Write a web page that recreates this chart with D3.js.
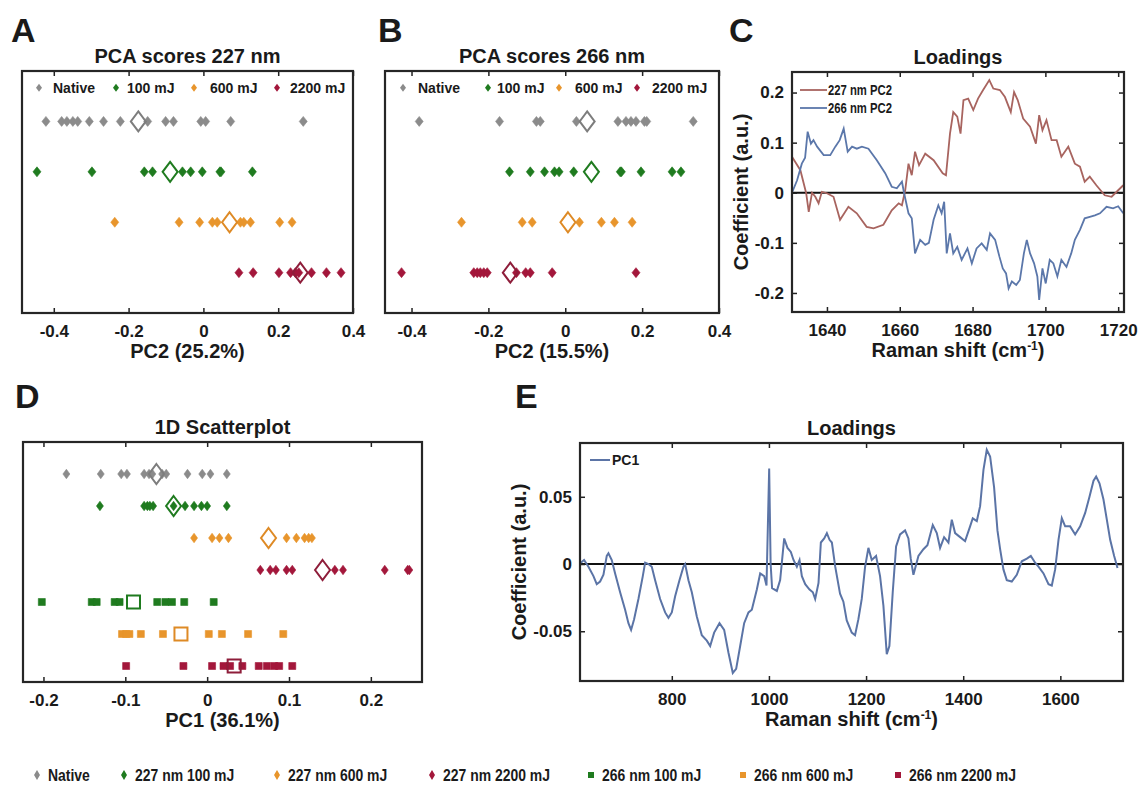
<!DOCTYPE html>
<html><head><meta charset="utf-8">
<script src="https://cdn.jsdelivr.net/npm/d3@7"></script>
<style>
body{margin:0;background:#fff}
svg{display:block}
text{font-family:'Liberation Sans',Arial,sans-serif;font-weight:bold;fill:#1a1a1a}
</style>
</head><body>
<svg id="fig" width="1141" height="788"></svg>
<script>
// ---------------- DATA ----------------
const groupsAB = ["Native", "100 mJ", "600 mJ", "2200 mJ"];
const groupsD = ["Native", "227 nm 100 mJ", "227 nm 600 mJ", "227 nm 2200 mJ", "266 nm 100 mJ", "266 nm 600 mJ", "266 nm 2200 mJ"];
const groupColors = ["#8b8b8b", "#1f7b1f", "#e8952c", "#a3173b"];
const meanStroke = ["#7d7d7d", "#1f7b1f", "#de8a25", "#8e1d3a"];

// Panel A: PC2 scores, 227 nm
const scoresA_native = [-0.421, -0.379, -0.365, -0.349, -0.336, -0.305, -0.267, -0.222, -0.149, -0.101, -0.080, -0.007, 0.006, 0.073, 0.267];
const scoresA_100 = [-0.445, -0.298, -0.158, -0.136, -0.056, -0.034, -0.003, 0.044, 0.047, 0.131];
const scoresA_600 = [-0.237, -0.065, -0.010, 0.024, 0.037, 0.099, 0.108, 0.126, 0.204, 0.237];
const scoresA_2200 = [0.095, 0.133, 0.202, 0.233, 0.246, 0.255, 0.289, 0.329, 0.368];
const meansA = [-0.174, -0.089, 0.070, 0.259];

// Panel B: PC2 scores, 266 nm
const scoresB_native = [-0.380, -0.171, -0.075, -0.065, 0.029, 0.137, 0.158, 0.171, 0.184, 0.206, 0.212, 0.333];
const scoresB_100 = [-0.145, -0.091, -0.054, -0.028, -0.016, 0.022, 0.143, 0.146, 0.197, 0.278, 0.301];
const scoresB_600 = [-0.270, -0.112, -0.086, 0.037, 0.094, 0.128, 0.174];
const scoresB_2200 = [-0.426, -0.238, -0.229, -0.221, -0.212, -0.203, -0.127, -0.103, -0.091, -0.034, 0.184];
const meansB = [0.057, 0.068, 0.007, -0.143];

// Panel D: PC1 scores
const scoresD_native = [-0.172, -0.130, -0.105, -0.098, -0.077, -0.071, -0.067, -0.055, -0.050, -0.024, -0.006, 0.004, 0.024];
const scoresD_227_100 = [-0.131, -0.077, -0.073, -0.070, -0.066, -0.041, -0.027, -0.016, -0.007, 0.000, 0.024];
const scoresD_227_600 = [-0.016, 0.006, 0.015, 0.026, 0.097, 0.109, 0.119, 0.124, 0.128];
const scoresD_227_2200 = [0.065, 0.077, 0.084, 0.097, 0.104, 0.156, 0.166, 0.217, 0.245, 0.247];
const scoresD_266_100 = [-0.202, -0.141, -0.135, -0.113, -0.107, -0.061, -0.051, -0.043, -0.028, 0.008];
const scoresD_266_600 = [-0.104, -0.099, -0.095, -0.081, -0.054, 0.002, 0.018, 0.050, 0.093];
const scoresD_266_2200 = [-0.099, -0.029, 0.006, 0.020, 0.028, 0.043, 0.063, 0.073, 0.082, 0.088, 0.104];
const meansD = [-0.062, -0.041, 0.075, 0.141, -0.090, -0.032, 0.033];

// Panel C: PC2 loadings [Raman shift, coefficient]
const loadC_227 = [[1630.4,0.072],[1632.7,0.045],[1634.3,-0.001],[1635,-0.038],[1635.9,0.0],[1636.8,-0.008],[1637.7,-0.021],[1638.6,0.002],[1640,-0.001],[1641.8,-0.008],[1643.6,-0.054],[1645.9,-0.028],[1648.2,-0.041],[1650.9,-0.068],[1652.8,-0.071],[1655.5,-0.064],[1657.8,-0.035],[1659.7,-0.021],[1660.6,-0.025],[1661.5,0.005],[1662.4,0.058],[1663.3,0.035],[1664.2,0.082],[1665.3,0.055],[1667,0.078],[1669.3,0.065],[1671.8,0.039],[1672.7,0.035],[1673.8,0.118],[1674.7,0.161],[1675.8,0.152],[1676.7,0.118],[1677.5,0.185],[1678.8,0.188],[1680.2,0.165],[1681.5,0.188],[1682.9,0.205],[1684.6,0.225],[1685.7,0.208],[1687.5,0.205],[1688.9,0.191],[1690.5,0.161],[1691.4,0.201],[1692.4,0.185],[1693.9,0.148],[1695.8,0.132],[1697.4,0.098],[1698.3,0.155],[1699.2,0.125],[1700.3,0.145],[1701.7,0.105],[1703.1,0.105],[1704.4,0.072],[1706.3,0.092],[1708.1,0.058],[1709.5,0.052],[1710.8,0.022],[1712.2,0.032],[1714,0.015],[1716.3,-0.005],[1718.2,-0.008],[1720,0.005],[1721.4,0.015]];
const loadC_266 = [[1630.4,0.0],[1631.8,0.025],[1633.1,0.058],[1634,0.07],[1634.7,0.122],[1635.6,0.098],[1636.3,0.105],[1637.3,0.092],[1639.1,0.075],[1640.9,0.075],[1642.3,0.092],[1643.5,0.105],[1644.6,0.128],[1645.7,0.082],[1646.9,0.092],[1648.2,0.088],[1649.6,0.092],[1651.4,0.088],[1653.7,0.065],[1656,0.039],[1657.8,0.012],[1659.2,0.009],[1660.6,0.022],[1661.2,-0.001],[1662.4,-0.041],[1663.3,-0.051],[1664.2,-0.121],[1665.6,-0.094],[1667,-0.104],[1668,-0.1],[1669.3,-0.054],[1670.6,-0.025],[1671.5,-0.041],[1672.2,-0.018],[1672.9,-0.121],[1673.8,-0.081],[1674.7,-0.121],[1675.8,-0.108],[1677,-0.134],[1678.6,-0.111],[1679.8,-0.141],[1681.1,-0.111],[1682.5,-0.101],[1683.9,-0.114],[1684.8,-0.081],[1686.2,-0.094],[1687.4,-0.128],[1688.3,-0.151],[1689.2,-0.161],[1689.9,-0.191],[1690.8,-0.177],[1692,-0.184],[1693,-0.174],[1694.1,-0.121],[1694.9,-0.094],[1695.8,-0.121],[1696.9,-0.141],[1697.8,-0.167],[1698.3,-0.214],[1699.2,-0.151],[1700.1,-0.181],[1701.2,-0.134],[1702.2,-0.141],[1703.3,-0.167],[1704.4,-0.134],[1705.8,-0.148],[1707.1,-0.121],[1708.1,-0.094],[1709.5,-0.074],[1710.8,-0.051],[1712.2,-0.048],[1713.6,-0.045],[1715,-0.041],[1716.8,-0.028],[1718.6,-0.031],[1720,-0.027],[1721.4,-0.041]];

// Panel E: PC1 loadings [Raman shift, coefficient]
const loadE_pc1 = [[612.6,0.001],[619.4,0.003],[628.4,-0.002],[638.7,-0.009],[645.5,-0.015],[652.4,-0.013],[659.3,-0.008],[666.1,0.006],[669.6,0.008],[676.4,0.003],[683.3,-0.007],[693.6,-0.021],[703.9,-0.034],[710.7,-0.044],[716.2,-0.049],[722.4,-0.041],[731.3,-0.026],[740.3,-0.009],[745.1,0.001],[751.9,0.0],[758.8,-0.002],[765.7,-0.012],[776,-0.026],[786.3,-0.036],[793.1,-0.04],[800,-0.036],[806.9,-0.024],[815.8,-0.012],[824,-0.002],[827.5,0.0],[834.3,-0.012],[841.2,-0.021],[851.5,-0.039],[861.8,-0.053],[872.1,-0.057],[879,-0.061],[887.2,-0.051],[898.2,-0.044],[907.8,-0.049],[916.7,-0.066],[925.6,-0.081],[932.5,-0.078],[940.8,-0.061],[949,-0.044],[957.9,-0.036],[964.8,-0.034],[975.1,-0.019],[982,-0.007],[990.2,-0.009],[995,-0.016],[1000.5,0.071],[1003.5,0.0],[1006.5,-0.018],[1016.3,-0.02],[1023.1,-0.012],[1031.4,0.019],[1038.2,0.012],[1045.1,0.009],[1050.6,0.003],[1057.5,-0.002],[1063,0.003],[1067.8,-0.009],[1074.7,-0.015],[1083.6,-0.019],[1090.4,-0.021],[1095.2,-0.026],[1102.1,-0.014],[1106.9,0.016],[1113.8,0.019],[1119.3,0.023],[1124.8,0.018],[1129.6,0.016],[1136.5,-0.002],[1146.4,-0.022],[1153.3,-0.028],[1160.2,-0.042],[1170.5,-0.051],[1177.3,-0.053],[1184.2,-0.041],[1191.1,-0.026],[1198,-0.002],[1204.8,0.012],[1211.7,0.003],[1220.6,0.006],[1228.8,-0.009],[1235.7,-0.031],[1242.6,-0.067],[1248,-0.061],[1254.9,-0.021],[1261.8,0.013],[1270,0.022],[1280.3,0.025],[1287.2,0.019],[1292,0.004],[1297.5,-0.008],[1307.8,0.006],[1318.1,0.011],[1326.3,0.014],[1337.3,0.029],[1345.6,0.023],[1352.4,0.012],[1360.7,0.02],[1369.6,0.016],[1376.5,0.033],[1383.3,0.023],[1393.6,0.02],[1403.9,0.017],[1414.2,0.028],[1419.7,0.034],[1428,0.032],[1434.8,0.043],[1441.7,0.07],[1448.5,0.085],[1455.4,0.08],[1463.6,0.057],[1470.5,0.025],[1476,0.011],[1482.8,-0.004],[1489.7,-0.012],[1500,-0.013],[1510.3,-0.008],[1520.6,0.002],[1531,0.004],[1539.2,0.006],[1548.1,0.001],[1555,-0.002],[1565.3,-0.007],[1575.6,-0.015],[1582.4,-0.016],[1589.3,-0.004],[1596.2,0.018],[1603,0.034],[1609.9,0.028],[1620.2,0.028],[1630.5,0.022],[1640.8,0.028],[1651.1,0.038],[1660,0.05],[1668.3,0.062],[1673.7,0.065],[1680.6,0.06],[1688.8,0.048],[1695.7,0.033],[1702.6,0.018],[1710.8,0.006],[1717.7,-0.003]];

const ticksAB = [-0.4, -0.2, 0, 0.2, 0.4];
const ticksD = [-0.2, -0.1, 0, 0.1, 0.2];
const ticksCx = [1640, 1660, 1680, 1700, 1720];
const ticksCy = [-0.2, -0.1, 0, 0.1, 0.2];
const ticksEx = [800, 1000, 1200, 1400, 1600];
const ticksEy = [-0.05, 0, 0.05];

// ---------------- DRAWING ----------------
const svg = d3.select("#fig");
const fmt = d => String(+(+d).toFixed(3));
const diamond = (w, h) => `M0,${-h/2}L${w/2},0L0,${h/2}L${-w/2},0Z`;
const square = s => `M${-s/2},${-s/2}h${s}v${s}h${-s}Z`;

function frame(g, x, y, box, xt, yt) {
  g.append("g").attr("transform", `translate(0,${box.b})`)
    .call(d3.axisBottom(x).tickValues(xt).tickSize(-5).tickPadding(12).tickFormat(fmt))
    .call(s => { s.select(".domain").remove(); s.selectAll("text").style("font-size", "17px").attr("fill", "#1a1a1a"); s.selectAll("line").attr("stroke", "#222").attr("stroke-width", 1.5); });
  g.append("g").attr("transform", `translate(0,${box.t})`)
    .call(d3.axisTop(x).tickValues(xt).tickSize(-5).tickFormat(""))
    .call(s => { s.select(".domain").remove(); s.selectAll("line").attr("stroke", "#222").attr("stroke-width", 1.5); });
  if (yt) {
    g.append("g").attr("transform", `translate(${box.l},0)`)
      .call(d3.axisLeft(y).tickValues(yt).tickSize(-5).tickPadding(8).tickFormat(fmt))
      .call(s => { s.select(".domain").remove(); s.selectAll("text").style("font-size", "17px").attr("fill", "#1a1a1a"); s.selectAll("line").attr("stroke", "#222").attr("stroke-width", 1.5); });
    g.append("g").attr("transform", `translate(${box.r},0)`)
      .call(d3.axisRight(y).tickValues(yt).tickSize(-5).tickFormat(""))
      .call(s => { s.select(".domain").remove(); s.selectAll("line").attr("stroke", "#222").attr("stroke-width", 1.5); });
  }
  g.append("rect").attr("x", box.l).attr("y", box.t).attr("width", box.r - box.l).attr("height", box.b - box.t)
    .attr("fill", "none").attr("stroke", "#262626").attr("stroke-width", 2.2);
}

function labels(box, letter, letterPos, title, xlabel, ylabel, ylabelX) {
  svg.append("text").attr("x", letterPos[0]).attr("y", letterPos[1]).style("font-size", "34px").text(letter);
  const cx = (box.l + box.r) / 2;
  svg.append("text").attr("x", cx).attr("y", box.t - 8).attr("text-anchor", "middle").style("font-size", "20px").text(title);
  const xl = svg.append("text").attr("x", cx).attr("y", box.b + 45).attr("text-anchor", "middle").style("font-size", "20px");
  if (Array.isArray(xlabel)) {
    xl.append("tspan").text(xlabel[0]);
    xl.append("tspan").attr("dy", -7).style("font-size", "12px").text(xlabel[1]);
    xl.append("tspan").attr("dy", 7).text(xlabel[2]);
  } else xl.text(xlabel);
  if (ylabel) {
    const cy = (box.t + box.b) / 2;
    svg.append("text").attr("transform", `translate(${ylabelX},${cy}) rotate(-90)`).attr("text-anchor", "middle").style("font-size", "20px").text(ylabel);
  }
}

function scatterPanel(box, xDomain, yDomain, rows, ticks, legend) {
  const x = d3.scaleLinear().domain(xDomain).range([box.l, box.r]);
  const y = d3.scaleLinear().domain(yDomain).range([box.b, box.t]);
  const g = svg.append("g");
  rows.forEach(r => {
    const shape = r.shape === "s" ? square(r.size[0]) : diamond(r.size[0], r.size[1]);
    g.append("g").selectAll("path").data(r.vals).join("path")
      .attr("d", shape).attr("transform", d => `translate(${x(d)},${y(r.row)})`)
      .attr("fill", r.color).attr("stroke", r.color).attr("stroke-width", 0.6);
    const mshape = r.shape === "s" ? square(r.msize[0]) : diamond(r.msize[0], r.msize[1]);
    g.append("path").attr("d", mshape).attr("transform", `translate(${x(r.mean)},${y(r.row)})`)
      .attr("fill", "none").attr("stroke", r.mstroke).attr("stroke-width", 2);
  });
  if (legend) {
    legend.items.forEach((it, i) => {
      g.append("path").attr("d", diamond(6, 8)).attr("transform", `translate(${legend.mx[i]},${y(legend.row)})`).attr("fill", groupColors[i]);
      g.append("text").attr("x", legend.tx[i]).attr("y", y(legend.row) + 5).style("font-size", "14px").text(it);
    });
  }
  frame(g, x, y, box, ticks, null);
  return { x, y };
}

// Panel A
const boxA = { l: 22, r: 353, t: 71, b: 313 };
const rowsA = [scoresA_native, scoresA_100, scoresA_600, scoresA_2200].map((v, i) => ({
  vals: v, mean: meansA[i], row: 4 - i, color: groupColors[i], mstroke: meanStroke[i], shape: "d", size: [8, 10], msize: [15, 20]
}));
scatterPanel(boxA, [-0.485, 0.4], [0.2, 5.0], rowsA, ticksAB,
  { items: groupsAB, row: 4.67, mx: [39, 116, 194, 277], tx: [53, 127, 210, 290] });
labels(boxA, "A", [11, 42], "PCA scores 227 nm", "PC2 (25.2%)");

// Panel B
const boxB = { l: 385, r: 719, t: 71, b: 313 };
const rowsB = [scoresB_native, scoresB_100, scoresB_600, scoresB_2200].map((v, i) => ({
  vals: v, mean: meansB[i], row: 4 - i, color: groupColors[i], mstroke: meanStroke[i], shape: "d", size: [8, 10], msize: [15, 20]
}));
scatterPanel(boxB, [-0.469, 0.4], [0.2, 5.0], rowsB, ticksAB,
  { items: groupsAB, row: 4.67, mx: [403, 488, 559, 637], tx: [418, 497, 575, 652] });
labels(boxB, "B", [378, 42], "PCA scores 266 nm", "PC2 (15.5%)");

// Panel D
const boxD = { l: 23, r: 422, t: 442, b: 682 };
const dVals = [scoresD_native, scoresD_227_100, scoresD_227_600, scoresD_227_2200, scoresD_266_100, scoresD_266_600, scoresD_266_2200];
const dColorIdx = [0, 1, 2, 3, 1, 2, 3];
const rowsD = dVals.map((v, i) => ({
  vals: v, mean: meansD[i], row: 7 - i, color: groupColors[dColorIdx[i]], mstroke: meanStroke[dColorIdx[i]],
  shape: i >= 4 ? "s" : "d", size: i >= 4 ? [7] : [7, 9.5], msize: i >= 4 ? [13] : [15, 20]
}));
scatterPanel(boxD, [-0.225, 0.2625], [0.5, 8], rowsD, ticksD, null);
labels(boxD, "D", [15, 408], "1D Scatterplot", "PC1 (36.1%)");

// Panel C
const boxC = { l: 792, r: 1124, t: 72, b: 312 };
{
  const x = d3.scaleLinear().domain([1630.4, 1721.6]).range([boxC.l, boxC.r]);
  const y = d3.scaleLinear().domain([-0.238, 0.241]).range([boxC.b, boxC.t]);
  const g = svg.append("g");
  g.append("line").attr("x1", boxC.l).attr("x2", boxC.r).attr("y1", y(0)).attr("y2", y(0)).attr("stroke", "#111").attr("stroke-width", 2.2);
  const line = d3.line().x(d => x(d[0])).y(d => y(d[1]));
  g.append("path").datum(loadC_227).attr("d", line).attr("fill", "none").attr("stroke", "#a8645f").attr("stroke-width", 1.8);
  g.append("path").datum(loadC_266).attr("d", line).attr("fill", "none").attr("stroke", "#5b77aa").attr("stroke-width", 1.8);
  frame(g, x, y, boxC, ticksCx, ticksCy);
  [["227 nm PC2", "#a8645f", 90], ["266 nm PC2", "#5b77aa", 108]].forEach(([t, c, yy]) => {
    g.append("line").attr("x1", 800).attr("x2", 827).attr("y1", yy).attr("y2", yy).attr("stroke", c).attr("stroke-width", 1.8);
    g.append("text").attr("x", 828).attr("y", yy + 5).style("font-size", "14px").attr("textLength", 64).attr("lengthAdjust", "spacingAndGlyphs").text(t);
  });
}
labels(boxC, "C", [729, 42], "Loadings", ["Raman shift (cm", "-1", ")"], "Coefficient (a.u.)", 748);

// Panel E
const boxE = { l: 580, r: 1123, t: 443, b: 681 };
{
  const x = d3.scaleLinear().domain([611, 1729]).range([boxE.l, boxE.r]);
  const y = d3.scaleLinear().domain([-0.087, 0.09]).range([boxE.b, boxE.t]);
  const g = svg.append("g");
  g.append("line").attr("x1", boxE.l).attr("x2", boxE.r).attr("y1", y(0)).attr("y2", y(0)).attr("stroke", "#111").attr("stroke-width", 2.2);
  const line = d3.line().x(d => x(d[0])).y(d => y(d[1]));
  g.append("path").datum(loadE_pc1).attr("d", line).attr("fill", "none").attr("stroke", "#5b74a6").attr("stroke-width", 2);
  frame(g, x, y, boxE, ticksEx, ticksEy);
  g.append("line").attr("x1", 590).attr("x2", 610).attr("y1", 460).attr("y2", 460).attr("stroke", "#5b74a6").attr("stroke-width", 2);
  g.append("text").attr("x", 612).attr("y", 465).style("font-size", "14px").text("PC1");
}
labels(boxE, "E", [515, 408], "Loadings", ["Raman shift (cm", "-1", ")"], "Coefficient (a.u.)", 526);

// Bottom legend
{
  const lg = svg.append("g");
  const mx = [37, 124, 277, 432, 591, 743, 898];
  const tx = [48, 135, 288, 443, 602, 754, 909];
  groupsD.forEach((name, i) => {
    const c = groupColors[dColorIdx[i]];
    lg.append("path").attr("d", i >= 4 ? square(6) : diamond(6, 10)).attr("transform", `translate(${mx[i]},775)`).attr("fill", c);
    const t = lg.append("text").attr("x", tx[i]).attr("y", 781).style("font-size", "17px").text(name);
    const w = t.node().getComputedTextLength();
    t.attr("textLength", w * 0.82).attr("lengthAdjust", "spacingAndGlyphs");
  });
}
</script>
</body></html>
